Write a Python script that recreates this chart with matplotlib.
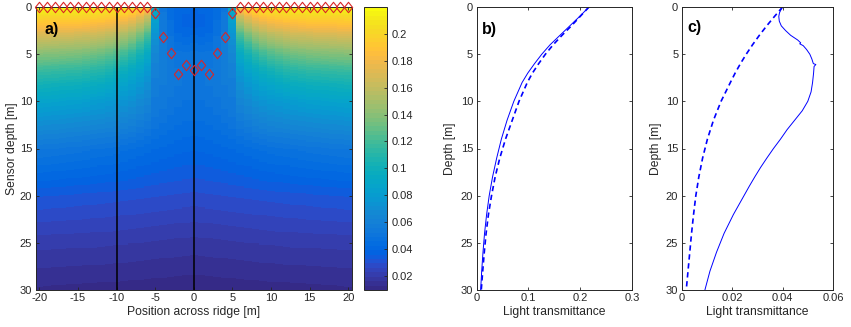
import numpy as np
import matplotlib
matplotlib.use("Agg")
import matplotlib.pyplot as plt
from matplotlib.colors import ListedColormap

plt.rcParams['font.family'] = ['Liberation Sans', 'DejaVu Sans']
plt.rcParams['axes.unicode_minus'] = False

# ---------------- data ----------------
# panel a: light field across the ridge, profiles at |x| = col_nodes
depth_nodes = [0, 1, 2, 3, 4, 5, 6, 7, 8, 10, 12, 15, 20, 25, 30]
col_nodes = [0, 1, 2, 3, 4, 5, 6, 7, 8, 9, 10, 12, 15, 20]
T_x0 = [0.040, 0.038, 0.0385, 0.0425, 0.047, 0.050, 0.0515, 0.052, 0.0515, 0.049, 0.046, 0.040, 0.0285, 0.0185, 0.0105]
T_x1 = [0.040, 0.039, 0.039, 0.042, 0.046, 0.050, 0.052, 0.052, 0.052, 0.049, 0.046, 0.0403, 0.0287, 0.0186, 0.0106]
T_x2 = [0.041, 0.040, 0.041, 0.043, 0.047, 0.050, 0.052, 0.053, 0.053, 0.050, 0.047, 0.0408, 0.029, 0.0187, 0.0107]
T_x3 = [0.044, 0.045, 0.047, 0.049, 0.051, 0.053, 0.054, 0.054, 0.054, 0.052, 0.048, 0.0415, 0.0292, 0.0189, 0.0108]
T_x4 = [0.052, 0.053, 0.055, 0.056, 0.057, 0.058, 0.058, 0.057, 0.056, 0.054, 0.050, 0.0422, 0.0295, 0.019, 0.0109]
T_x5 = [0.092, 0.086, 0.080, 0.074, 0.069, 0.065, 0.062, 0.060, 0.058, 0.055, 0.052, 0.043, 0.0298, 0.0192, 0.0110]
T_x6 = [0.193, 0.165, 0.141, 0.121, 0.105, 0.093, 0.084, 0.077, 0.072, 0.064, 0.056, 0.044, 0.0300, 0.0194, 0.0111]
T_x7 = [0.203, 0.177, 0.154, 0.134, 0.117, 0.103, 0.093, 0.085, 0.078, 0.068, 0.059, 0.045, 0.0303, 0.0196, 0.0112]
T_x8 = [0.208, 0.185, 0.163, 0.144, 0.127, 0.112, 0.100, 0.091, 0.083, 0.072, 0.062, 0.046, 0.0306, 0.0197, 0.0113]
T_x9 = [0.211, 0.190, 0.169, 0.151, 0.134, 0.119, 0.106, 0.096, 0.088, 0.075, 0.064, 0.047, 0.0308, 0.0199, 0.0114]
T_x10 = [0.213, 0.193, 0.174, 0.156, 0.139, 0.124, 0.111, 0.100, 0.091, 0.077, 0.066, 0.048, 0.0310, 0.0200, 0.0115]
T_x12 = [0.215, 0.197, 0.179, 0.162, 0.146, 0.131, 0.118, 0.107, 0.097, 0.080, 0.068, 0.049, 0.0315, 0.0203, 0.0117]
T_x15 = [0.217, 0.200, 0.183, 0.166, 0.150, 0.136, 0.123, 0.111, 0.101, 0.084, 0.070, 0.051, 0.0320, 0.0207, 0.0120]
T_x20 = [0.218, 0.201, 0.185, 0.169, 0.153, 0.139, 0.126, 0.114, 0.104, 0.087, 0.073, 0.053, 0.0330, 0.0210, 0.0125]

# ridge keel (sensor start) positions
keel_x = [-20, -19, -18, -17, -16, -15, -14, -13, -12, -11, -10, -9, -8, -7, -6, -5, -4, -3, -2, -1,
          0, 1, 2, 3, 4, 5, 6, 7, 8, 9, 10, 11, 12, 13, 14, 15, 16, 17, 18, 19, 20]
keel_depth = [0, 0, 0, 0, 0, 0, 0, 0, 0, 0, 0, 0, 0, 0, 0, 0.67, 3.2, 4.9, 7.1, 6.1,
              6.7, 6.1, 7.1, 4.9, 3.2, 0.67, 0, 0, 0, 0, 0, 0, 0, 0, 0, 0, 0, 0, 0, 0, 0]
profile_x = [-10, 0]

# panel b
b_depth = [0, 1, 2, 3, 4, 5, 6, 7, 8, 10, 12, 14, 16, 18, 20, 22, 24, 26, 28, 30]
b_solid = [0.217, 0.199, 0.180, 0.161, 0.142, 0.126, 0.112, 0.099, 0.088, 0.072, 0.059, 0.048,
           0.039, 0.031, 0.0245, 0.0195, 0.0155, 0.0125, 0.010, 0.008]
b_dashed = [0.217, 0.200, 0.183, 0.165, 0.148, 0.133, 0.120, 0.108, 0.098, 0.082, 0.069, 0.056,
            0.045, 0.036, 0.029, 0.023, 0.0185, 0.015, 0.012, 0.0092]

# panel c
c_solid_depth = [0, 0.6, 1.0, 1.5, 2.0, 2.5, 3.0, 3.5, 3.8, 3.9, 4.1, 4.5, 5.0, 5.5, 6.0, 6.1, 6.3,
                 7.0, 8.0, 9.0, 10.0, 11.0, 12.0, 13.0, 14.0, 15.0, 16.0, 17.0, 18.0, 19.0, 20.0,
                 22.0, 24.0, 26.0, 28.0, 30.0]
c_solid = [0.0399, 0.0388, 0.0385, 0.0387, 0.0395, 0.0412, 0.0432, 0.0460, 0.0472, 0.0468, 0.0482,
           0.0495, 0.0508, 0.0516, 0.0522, 0.0532, 0.0525, 0.0523, 0.0519, 0.0513, 0.0500, 0.0478,
           0.0448, 0.0418, 0.0392, 0.0364, 0.0338, 0.0313, 0.0290, 0.0268, 0.0247, 0.0205, 0.0168,
           0.0138, 0.0112, 0.0092]
c_dashed_depth = [0, 1, 2, 3, 4, 5, 6, 7, 8, 10, 12, 14, 16, 18, 20, 22, 24, 26, 28, 30]
c_dashed = [0.0400, 0.0368, 0.0337, 0.0308, 0.0281, 0.0256, 0.0233, 0.0212, 0.0193, 0.0156, 0.0126,
            0.0102, 0.0083, 0.0068, 0.0056, 0.0047, 0.0039, 0.0032, 0.0025, 0.0018]

# ---------------- style ----------------
parula64 = [
    (0.2081, 0.1663, 0.5292), (0.2116, 0.1898, 0.5777), (0.2123, 0.2138, 0.6270), (0.2081, 0.2386, 0.6771),
    (0.1959, 0.2645, 0.7279), (0.1707, 0.2919, 0.7792), (0.1253, 0.3242, 0.8303), (0.0591, 0.3598, 0.8683),
    (0.0117, 0.3875, 0.8820), (0.0060, 0.4086, 0.8828), (0.0165, 0.4266, 0.8786), (0.0329, 0.4430, 0.8720),
    (0.0498, 0.4586, 0.8641), (0.0629, 0.4737, 0.8554), (0.0723, 0.4887, 0.8467), (0.0779, 0.5040, 0.8384),
    (0.0793, 0.5200, 0.8312), (0.0749, 0.5375, 0.8263), (0.0641, 0.5570, 0.8240), (0.0488, 0.5772, 0.8228),
    (0.0343, 0.5966, 0.8199), (0.0265, 0.6137, 0.8135), (0.0239, 0.6287, 0.8038), (0.0231, 0.6418, 0.7913),
    (0.0228, 0.6535, 0.7768), (0.0267, 0.6642, 0.7607), (0.0384, 0.6743, 0.7436), (0.0590, 0.6838, 0.7254),
    (0.0843, 0.6928, 0.7062), (0.1133, 0.7015, 0.6859), (0.1453, 0.7098, 0.6646), (0.1801, 0.7177, 0.6424),
    (0.2178, 0.7250, 0.6193), (0.2586, 0.7317, 0.5954), (0.3022, 0.7376, 0.5712), (0.3482, 0.7424, 0.5473),
    (0.3953, 0.7459, 0.5244), (0.4420, 0.7481, 0.5033), (0.4871, 0.7491, 0.4840), (0.5300, 0.7491, 0.4661),
    (0.5709, 0.7485, 0.4494), (0.6099, 0.7473, 0.4337), (0.6473, 0.7456, 0.4188), (0.6834, 0.7435, 0.4044),
    (0.7184, 0.7411, 0.3905), (0.7525, 0.7384, 0.3768), (0.7858, 0.7356, 0.3633), (0.8185, 0.7327, 0.3498),
    (0.8507, 0.7299, 0.3360), (0.8824, 0.7274, 0.3217), (0.9139, 0.7258, 0.3063), (0.9450, 0.7261, 0.2886),
    (0.9739, 0.7314, 0.2666), (0.9938, 0.7455, 0.2403), (0.9990, 0.7653, 0.2164), (0.9955, 0.7861, 0.1967),
    (0.9880, 0.8066, 0.1794), (0.9789, 0.8271, 0.1633), (0.9697, 0.8481, 0.1475), (0.9626, 0.8705, 0.1309),
    (0.9589, 0.8949, 0.1132), (0.9598, 0.9218, 0.0948), (0.9661, 0.9514, 0.0755), (0.9763, 0.9831, 0.0538)]
cmap = ListedColormap(parula64)
VMIN, VMAX = 0.0098, 0.2198
AXC = (0.15, 0.15, 0.15)
TFS = 8
LFS = 8.7

W, H = 851, 327
fig = plt.figure(figsize=(W / 100, H / 100), dpi=100)


def frac(l, r, t, b):
    return [l / W, (H - b) / H, (r - l) / W, (b - t) / H]


def style(ax):
    ax.tick_params(direction='in', top=True, right=True, length=2.5, width=0.6,
                   colors=AXC, labelsize=TFS, pad=2.5)
    for s in ax.spines.values():
        s.set_color(AXC)
        s.set_linewidth(0.7)


# ---------------- panel a ----------------
axa = fig.add_axes(frac(35.5, 352, 7, 290))
table = np.array([T_x0, T_x1, T_x2, T_x3, T_x4, T_x5, T_x6, T_x7, T_x8, T_x9, T_x10,
                  T_x12, T_x15, T_x20])
xcols = np.arange(-20, 21)
zedges = np.linspace(0, 30, 301)
zc = 0.5 * (zedges[:-1] + zedges[1:])
prof_nodes = np.array([np.interp(zc, depth_nodes, row) for row in table])
field = np.empty((len(zc), len(xcols)))
for j, xv in enumerate(xcols):
    for i in range(len(zc)):
        field[i, j] = np.interp(abs(xv), col_nodes, prof_nodes[:, i])
xedges = np.arange(-20.5, 21.0, 1.0)
mesh = axa.pcolormesh(xedges, zedges, field, cmap=cmap, vmin=VMIN, vmax=VMAX,
                      shading='flat', rasterized=True)
for px in profile_x:
    axa.axvline(px, color='black', lw=1.1)
dverts = [(-0.8, 0), (0, 1), (0.8, 0), (0, -1), (-0.8, 0)]
axa.plot(keel_x, keel_depth, linestyle='none', marker=dverts, markersize=7.5,
         markerfacecolor='none', markeredgecolor=(0.85, 0.15, 0.15), markeredgewidth=0.8,
         clip_on=False, zorder=5)
axa.set_xlim(-20.5, 20.5)
axa.set_ylim(30, 0)
axa.set_xticks(np.arange(-20, 21, 5))
axa.set_yticks(np.arange(0, 31, 5))
style(axa)
axa.set_xlabel('Position across ridge [m]', fontsize=LFS, color=AXC, labelpad=2)
axa.set_ylabel('Sensor depth [m]', fontsize=LFS, color=AXC, labelpad=1)
axa.text(0.03, 0.919, 'a)', transform=axa.transAxes, fontsize=11.5, fontweight='bold',
         va='center', ha='left', color='black')

# colorbar
cax = fig.add_axes(frac(364, 387, 7, 290))
cb = fig.colorbar(mesh, cax=cax)
cticks = [0.02, 0.04, 0.06, 0.08, 0.1, 0.12, 0.14, 0.16, 0.18, 0.2]
cb.set_ticks(cticks)
cb.set_ticklabels(['%g' % v for v in cticks])
cb.ax.tick_params(direction='in', length=2.5, width=0.6, colors=AXC, labelsize=TFS, pad=3)
cb.outline.set_edgecolor(AXC)
cb.outline.set_linewidth(0.7)

# ---------------- panel b ----------------
axb = fig.add_axes(frac(476.5, 632, 7, 290))
axb.plot(b_solid, b_depth, color='blue', lw=0.7)
axb.plot(b_dashed, b_depth, color='blue', lw=1.2, linestyle=(0, (3.2, 2.2)))
axb.set_xlim(0, 0.3)
axb.set_ylim(30, 0)
axb.set_xticks([0, 0.1, 0.2, 0.3])
axb.set_xticklabels(['0', '0.1', '0.2', '0.3'])
axb.set_yticks(np.arange(0, 31, 5))
style(axb)
axb.set_xlabel('Light transmittance', fontsize=LFS, color=AXC, labelpad=2)
axb.set_ylabel('Depth [m]', fontsize=LFS, color=AXC, labelpad=3)
axb.text(0.037, 0.919, 'b)', transform=axb.transAxes, fontsize=11.5, fontweight='bold',
         va='center', ha='left', color='black')

# ---------------- panel c ----------------
axc = fig.add_axes(frac(681.7, 833, 7, 290))
axc.plot(c_solid, c_solid_depth, color='blue', lw=0.7)
axc.plot(c_dashed, c_dashed_depth, color='blue', lw=1.2, linestyle=(0, (3.2, 2.2)))
axc.set_xlim(0, 0.06)
axc.set_ylim(30, 0)
axc.set_xticks([0, 0.02, 0.04, 0.06])
axc.set_xticklabels(['0', '0.02', '0.04', '0.06'])
axc.set_yticks(np.arange(0, 31, 5))
style(axc)
axc.set_xlabel('Light transmittance', fontsize=LFS, color=AXC, labelpad=2)
axc.set_ylabel('Depth [m]', fontsize=LFS, color=AXC, labelpad=3)
axc.text(0.035, 0.926, 'c)', transform=axc.transAxes, fontsize=11.5, fontweight='bold',
         va='center', ha='left', color='black')

fig.savefig('out.png', dpi=100, facecolor='white')
